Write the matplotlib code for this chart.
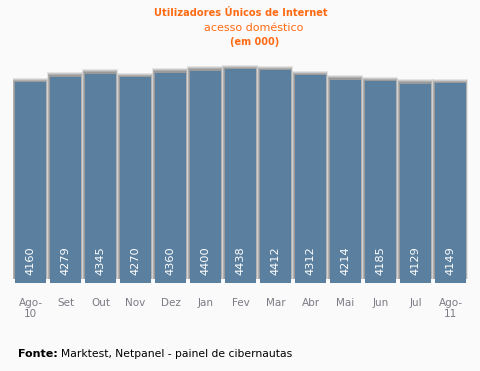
import matplotlib.pyplot as plt
import numpy as np

meses = ['Ago-\n10', 'Set', 'Out', 'Nov', 'Dez', 'Jan', 'Fev', 'Mar', 'Abr', 'Mai', 'Jun', 'Jul', 'Ago-\n11']
utilizadores = [4160, 4279, 4345, 4270, 4360, 4400, 4438, 4412, 4312, 4214, 4185, 4129, 4149]

W, H = 481, 371
fig = plt.figure(figsize=(W / 100, H / 100), dpi=100)
fig.patch.set_facecolor('#fafafa')
ax = fig.add_axes([13 / W, 88 / H, 455 / W, 241 / H])
ax.set_facecolor('#fafafa')

x = np.arange(len(meses))
px = 13 / 455  # um pixel em unidades x
py = 5000 / 241  # um pixel em unidades y
larg = 31 * px

# sombra (varias camadas para parecer difusa)
for k, a in [(4.5, 0.18), (3.5, 0.25), (2.5, 0.35), (1.5, 0.45)]:
    ax.bar(x - 0.5 * px, np.array(utilizadores) + k * py - 4 * py, bottom=4 * py,
           width=larg + k * px * 0.9, color='#808080', alpha=a, linewidth=0, zorder=1)

ax.bar(x, utilizadores, width=larg, color='#5a7f9f', linewidth=0, zorder=3)

for xi, v in zip(x, utilizadores):
    ax.annotate(str(v), (xi, 0), xytext=(0, 6), textcoords='offset points',
                rotation=90, ha='center', va='bottom', color='white', fontsize=8.2, zorder=4)

ax.set_xlim(-0.5, len(meses) - 0.5)
ax.set_ylim(0, 5000)
ax.set_xticks(x)
ax.set_xticklabels(meses, color='#7d7a85', fontsize=7.5, linespacing=1.1)
ax.tick_params(axis='x', length=0, pad=11)
ax.set_yticks([])
for s in ax.spines.values():
    s.set_visible(False)

fig.text(241 / W, 1 - 13.5 / H, 'Utilizadores Únicos de Internet', ha='center', va='center',
         color='#ff6a13', fontsize=7.1, fontweight='bold')
fig.text(254 / W, 1 - 28 / H, 'acesso doméstico', ha='center', va='center',
         color='#ff6a13', fontsize=8)
fig.text(255 / W, 1 - 42 / H, '(em 000)', ha='center', va='center',
         color='#ff6a13', fontsize=7, fontweight='bold')

fig.text(18 / W, 1 - 354 / H, 'Fonte:', ha='left', va='center', color='black',
         fontsize=8, fontweight='bold')
fig.text(61 / W, 1 - 354 / H, 'Marktest, Netpanel - painel de cibernautas', ha='left', va='center',
         color='black', fontsize=7.75)

fig.savefig('out.png', dpi=100, facecolor=fig.get_facecolor())
